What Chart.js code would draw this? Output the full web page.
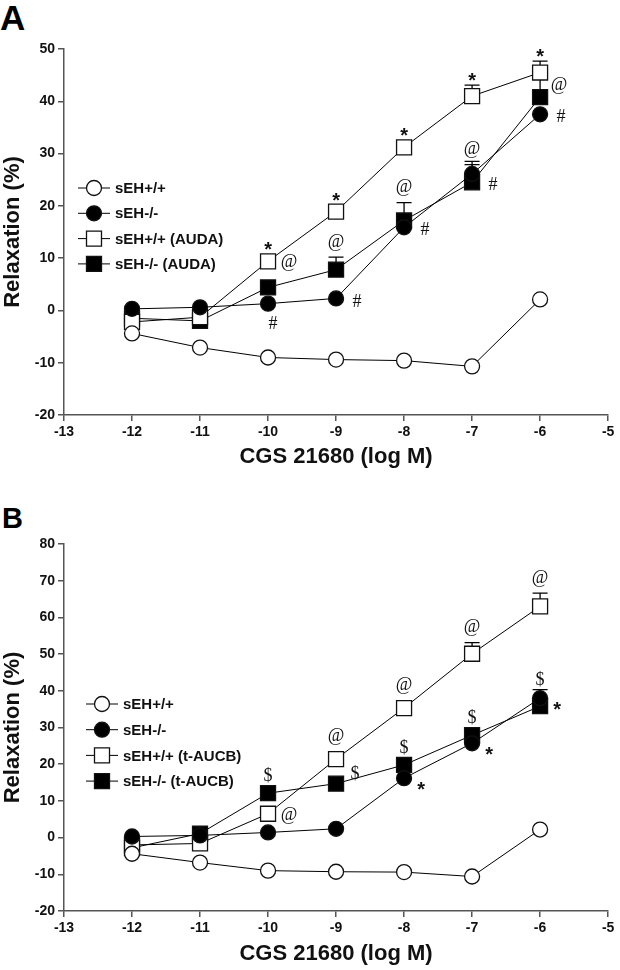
<!DOCTYPE html>
<html>
<head>
<meta charset="utf-8">
<script src="https://cdn.jsdelivr.net/npm/chart.js@4.4.1/dist/chart.umd.min.js"></script>
<style>
  html, body { margin: 0; padding: 0; background: #fff; }
  body { width: 620px; height: 970px; position: relative; overflow: hidden; font-family: "Liberation Sans", Arial, sans-serif; }
  .panel { position: absolute; left: 0; }
  .letter { position: absolute; left: 0; font-weight: bold; color: #000; line-height: 1; font-family: "Liberation Sans", Arial, sans-serif; }
</style>
</head>
<body>
<div class="letter" id="letterA" style="top:0px;font-size:35px;">A</div>
<div class="letter" id="letterB" style="top:503.5px;font-size:29px;left:2px;">B</div>
<canvas id="chartA" class="panel" style="top:0px" width="620" height="470"></canvas>
<canvas id="chartB" class="panel" style="top:484px" width="620" height="483"></canvas>
<script>
// ---------------- DATA ----------------
const X_VALUES = [-12, -11, -10, -9, -8, -7, -6];           // log M
const X_LABEL = 'CGS 21680 (log M)';
const Y_LABEL = 'Relaxation (%)';

// Panel A
const NAMES_A = ['sEH+/+', 'sEH-/-', 'sEH+/+ (AUDA)', 'sEH-/- (AUDA)'];
const WT_A       = [-4.4, -7.1, -9.0, -9.4, -9.6, -10.7, 2.1];
const KO_A       = [0.3, 0.6, 1.3, 2.3, 15.9, 26.1, 37.5];
const WT_AUDA_A  = [-2.2, -1.3, 9.4, 18.9, 31.2, 41.0, 45.5];
const KO_AUDA_A  = [-1.5, -2.0, 4.4, 7.8, 17.2, 24.5, 40.8];
const SEM_WT_A      = [0.5, 0.5, 0.5, 0.5, 0.5, 0.5, 0.5];
const SEM_KO_A      = [0.5, 0.5, 0.5, 0.5, 0.5, 2.4, 0.5];
const SEM_WT_AUDA_A = [0.5, 0.5, 0.5, 0.5, 0.5, 2.1, 2.2];
const SEM_KO_AUDA_A = [0.5, 0.5, 0.5, 2.4, 3.4, 3.4, 3.6];
// significance marks: [series index, point index, symbol, placement]
const MARKS_A = [
  [2, 2, '*', 'above'], [2, 3, '*', 'above'], [2, 4, '*', 'above'], [2, 5, '*', 'above'], [2, 6, '*', 'above'],
  [2, 2, '@', 'right'], [3, 3, '@', 'above'], [3, 4, '@', 'above'], [3, 5, '@', 'above'], [3, 6, '@', 'upperRight'],
  [1, 2, '#', 'below'], [1, 3, '#', 'right'], [1, 4, '#', 'right'], [3, 5, '#', 'right'], [1, 6, '#', 'right']
];

// Panel B
const NAMES_B = ['sEH+/+', 'sEH-/-', 'sEH+/+ (t-AUCB)', 'sEH-/- (t-AUCB)'];
const WT_B       = [-4.4, -6.8, -9.0, -9.3, -9.4, -10.6, 2.2];
const KO_B       = [0.3, 0.6, 1.4, 2.4, 16.2, 25.7, 38.0];
const WT_AUCB_B  = [-2.0, -1.6, 6.5, 21.4, 35.3, 50.1, 63.0];
const KO_AUCB_B  = [-2.8, 1.1, 12.1, 14.7, 19.8, 27.9, 35.8];
const SEM_WT_B      = [0.5, 0.5, 0.5, 0.5, 0.5, 0.5, 0.5];
const SEM_KO_B      = [0.5, 0.5, 0.5, 0.5, 0.5, 0.5, 0.5];
const SEM_WT_AUCB_B = [0.5, 0.5, 0.5, 0.5, 0.5, 3.0, 3.6];
const SEM_KO_AUCB_B = [0.5, 0.5, 0.5, 0.5, 0.5, 0.5, 4.5];
const MARKS_B = [
  [3, 2, '$', 'above'], [3, 3, '$', 'upperRight'], [3, 4, '$', 'above'], [3, 5, '$', 'above'], [3, 6, '$', 'above'],
  [2, 2, '@', 'right'], [2, 3, '@', 'above'], [2, 4, '@', 'above'], [2, 5, '@', 'above'], [2, 6, '@', 'above'],
  [1, 4, '*', 'rightLow'], [1, 5, '*', 'rightLow'], [1, 6, '*', 'rightLow']
];

// ---------------- STYLE ----------------
const SANS = '"Liberation Sans", Arial, sans-serif';
const SERIF = '"Liberation Serif", "Times New Roman", serif';
const AXIS_COLOR = '#555';
const TEXT_COLOR = '#111';
const SERIES_STYLE = [
  { pointStyle: 'circle', radius: 7.5, fill: '#fff' },
  { pointStyle: 'circle', radius: 7.5, fill: '#000' },
  { pointStyle: 'rect', radius: 10.6, fill: '#fff' },
  { pointStyle: 'rect', radius: 10.6, fill: '#000' }
];
const MARKER_HALF = 7.5;
const GLYPH = {
  '*': { font: 'bold 20px ' + SANS, center: 0.57, size: 20, gap: 9 },
  '@': { font: '18px ' + SERIF, center: 0.23, size: 18, gap: 14.5 },
  '$': { font: '18px ' + SERIF, center: 0.33, size: 18, gap: 10.5 },
  '#': { font: '18px ' + SERIF, center: 0.34, size: 18, gap: 10 }
};
const PLACE = {
  right: [21, 2], rightLow: [17, 6], upperRight: [19, -11], below: [5, 19]
};

function makeDatasets(names, values, sems) {
  return names.map((name, s) => ({
    label: name,
    data: X_VALUES.map((x, i) => ({ x: x, y: values[s][i] })),
    sem: sems[s],
    borderColor: '#000',
    borderWidth: 1,
    tension: 0,
    fill: false,
    pointStyle: SERIES_STYLE[s].pointStyle,
    pointRadius: SERIES_STYLE[s].radius,
    pointBackgroundColor: SERIES_STYLE[s].fill,
    pointBorderColor: '#111',
    pointBorderWidth: 1.3,
    clip: false
  }));
}

const errorBarPlugin = {
  id: 'errorBars',
  beforeDatasetDraw(chart, args) {
    const ds = chart.data.datasets[args.index];
    if (!ds.sem) return;
    const ctx = chart.ctx;
    const yScale = chart.scales.y;
    ctx.save();
    ctx.strokeStyle = '#000';
    ctx.lineWidth = 1.3;
    args.meta.data.forEach((pt, i) => {
      const top = yScale.getPixelForValue(ds.data[i].y + ds.sem[i]);
      if (pt.y - top < MARKER_HALF) return;
      ctx.beginPath();
      ctx.moveTo(pt.x, pt.y);
      ctx.lineTo(pt.x, top);
      ctx.moveTo(pt.x - 7.5, top);
      ctx.lineTo(pt.x + 7.5, top);
      ctx.stroke();
    });
    ctx.restore();
  }
};

const marksPlugin = {
  id: 'sigMarks',
  afterDatasetsDraw(chart, args, opts) {
    const ctx = chart.ctx;
    const yScale = chart.scales.y;
    ctx.save();
    ctx.fillStyle = TEXT_COLOR;
    ctx.textAlign = 'center';
    ctx.textBaseline = 'alphabetic';
    (opts.marks || []).forEach(([s, i, sym, place]) => {
      const ds = chart.data.datasets[s];
      const pt = chart.getDatasetMeta(s).data[i];
      const g = GLYPH[sym];
      let cx, cy;
      if (place === 'above') {
        const errTop = yScale.getPixelForValue(ds.data[i].y + ds.sem[i]);
        const top = Math.min(pt.y - MARKER_HALF, errTop);
        cx = pt.x; cy = top - g.gap;
      } else {
        cx = pt.x + PLACE[place][0]; cy = pt.y + PLACE[place][1];
      }
      ctx.font = g.font;
      ctx.fillText(sym, cx, cy + g.center * g.size);
    });
    ctx.restore();
  }
};

const legendPlugin = {
  id: 'innerLegend',
  afterDraw(chart, args, opts) {
    const ctx = chart.ctx;
    ctx.save();
    chart.data.datasets.forEach((ds, s) => {
      const x = opts.x, y = opts.y + s * opts.spacing;
      ctx.strokeStyle = '#000';
      ctx.lineWidth = 1;
      ctx.beginPath();
      ctx.moveTo(x - 16, y);
      ctx.lineTo(x + 16, y);
      ctx.stroke();
      ctx.fillStyle = SERIES_STYLE[s].fill;
      ctx.strokeStyle = '#111';
      ctx.lineWidth = 1.3;
      ctx.beginPath();
      if (SERIES_STYLE[s].pointStyle === 'circle') {
        ctx.arc(x, y, 7.5, 0, Math.PI * 2);
      } else {
        ctx.rect(x - 7.5, y - 7.5, 15, 15);
      }
      ctx.fill();
      ctx.stroke();
      ctx.fillStyle = TEXT_COLOR;
      ctx.font = 'bold 15px ' + SANS;
      ctx.textAlign = 'left';
      ctx.textBaseline = 'middle';
      ctx.fillText(ds.label, x + 21, y + 1);
    });
    ctx.restore();
  }
};

function makeChart(canvasId, datasets, yMax, padTop, xAxisHeight, marks, legend) {
  const gridCfg = { display: true, drawOnChartArea: false, drawTicks: true, tickLength: 6, color: AXIS_COLOR, lineWidth: 1.5 };
  return new Chart(document.getElementById(canvasId), {
    type: 'line',
    data: { datasets: datasets },
    options: {
      responsive: false,
      animation: false,
      events: [],
      layout: { padding: { top: padTop, left: 0, right: 8, bottom: 0 } },
      plugins: {
        legend: { display: false },
        tooltip: { enabled: false },
        sigMarks: { marks: marks },
        innerLegend: legend
      },
      scales: {
        x: {
          type: 'linear', min: -13, max: -5,
          ticks: { stepSize: 1, color: TEXT_COLOR, font: { family: SANS, size: 14, weight: 'bold' }, padding: 3, maxRotation: 0 },
          grid: gridCfg,
          border: { display: true, color: AXIS_COLOR, width: 1.5 },
          title: { display: true, text: X_LABEL, color: TEXT_COLOR, font: { family: SANS, size: 22, weight: 'bold' }, padding: 0 },
          afterFit(scale) { scale.height = xAxisHeight; }
        },
        y: {
          type: 'linear', min: -20, max: yMax,
          ticks: { stepSize: 10, color: TEXT_COLOR, font: { family: SANS, size: 14, weight: 'bold' }, padding: 3 },
          grid: gridCfg,
          border: { display: true, color: AXIS_COLOR, width: 1.5 },
          title: { display: true, text: Y_LABEL, color: TEXT_COLOR, font: { family: SANS, size: 22, weight: 'bold' }, padding: 0 },
          afterFit(scale) { scale.width = 64; }
        }
      }
    },
    plugins: [errorBarPlugin, marksPlugin, legendPlugin]
  });
}

makeChart('chartA',
  makeDatasets(NAMES_A, [WT_A, KO_A, WT_AUDA_A, KO_AUDA_A], [SEM_WT_A, SEM_KO_A, SEM_WT_AUDA_A, SEM_KO_AUDA_A]),
  50, 49, 55, MARKS_A, { x: 94, y: 188, spacing: 25.3 });

makeChart('chartB',
  makeDatasets(NAMES_B, [WT_B, KO_B, WT_AUCB_B, KO_AUCB_B], [SEM_WT_B, SEM_KO_B, SEM_WT_AUCB_B, SEM_KO_AUCB_B]),
  80, 60, 56, MARKS_B, { x: 102, y: 220, spacing: 25.7 });
</script>
</body>
</html>
